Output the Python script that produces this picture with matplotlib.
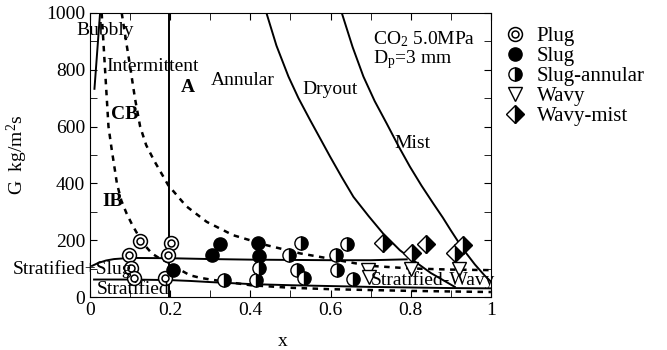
import numpy as np
import matplotlib
matplotlib.use('Agg')
from matplotlib import pyplot as plt

plt.rcParams['font.family'] = ['Liberation Serif', 'DejaVu Serif']
plt.rcParams['mathtext.default'] = 'regular'

# transition lines (x, G)
bubbly_x = [0.011, 0.025]
bubbly_g = [733, 1000]

ia_x = [0.198, 0.198]
ia_g = [0, 1000]

sw_x = [0.005, 0.02, 0.04, 0.06, 0.1, 0.2, 0.3, 0.4, 0.5, 0.6, 0.7, 0.79]
sw_g = [110, 120, 129, 134, 138, 137, 134, 132, 131, 130, 130, 133]

strat_x = [0.01, 0.1, 0.2, 0.25, 0.3, 0.4, 0.5, 0.6, 0.7, 0.8, 0.9, 1.0]
strat_g = [62, 62, 60, 57, 53, 46, 42, 39, 36, 34, 32, 31]

dry_x = [0.44, 0.465, 0.495, 0.52, 0.549, 0.575, 0.599, 0.628, 0.657, 0.695, 0.731,
         0.773, 0.80, 0.85, 0.91]
dry_g = [1000, 885, 776, 700, 623, 556, 494, 422, 353, 285, 224,
         165, 136, 85, 36]

mist_x = [0.628, 0.655, 0.682, 0.71, 0.740, 0.77, 0.798, 0.827, 0.856, 0.88, 0.90,
          0.93, 0.96, 0.985, 1.0]
mist_g = [1000, 880, 776, 690, 611, 530, 459, 392, 330, 280, 235,
          170, 115, 75, 55]

# dashed curves
cb_x = [0.029, 0.037, 0.046, 0.054, 0.062, 0.067, 0.078, 0.091, 0.105, 0.12, 0.135,
        0.154, 0.175, 0.2, 0.225, 0.249, 0.275, 0.30, 0.35,
        0.4, 0.5, 0.6, 0.7, 0.8, 0.9, 1.0]
cb_g = [1000, 811, 600, 520, 447, 400, 340, 295, 255, 218, 185,
        154, 135, 119, 96, 77, 68, 62, 52,
        42, 33, 28, 25, 22, 20, 18]

ib_x = [0.079, 0.09, 0.1, 0.112, 0.125, 0.14, 0.16, 0.195, 0.24, 0.291, 0.357, 0.44,
        0.524, 0.60, 0.65, 0.70, 0.80, 0.90, 1.0]
ib_g = [1000, 900, 811, 700, 600, 535, 480, 394, 320, 265, 218, 183,
        154, 135, 122, 110, 101, 97, 95]

# observed flow patterns
plug_x = [0.125, 0.201, 0.097, 0.195, 0.101, 0.110, 0.187]
plug_g = [198, 191, 150, 148, 101, 66, 66]

slug_x = [0.208, 0.303, 0.324, 0.420, 0.422]
slug_g = [97, 150, 187, 191, 144]

sa_x = [0.526, 0.640, 0.496, 0.613, 0.421, 0.517, 0.615, 0.334, 0.414, 0.534, 0.655]
sa_g = [191, 187, 150, 148, 101, 97, 97, 62, 62, 66, 64]

wavy_x = [0.694, 0.695, 0.800, 0.920]
wavy_g = [97, 70, 100, 100]

wm_x = [0.731, 0.802, 0.838, 0.910, 0.931]
wm_g = [191, 154, 187, 154, 183]

fig = plt.figure(figsize=(6.67, 3.5), dpi=100)
ax = fig.add_axes([0.135, 0.151, 0.601, 0.812])

for xs, gs in [(bubbly_x, bubbly_g), (ia_x, ia_g), (sw_x, sw_g),
               (strat_x, strat_g), (dry_x, dry_g), (mist_x, mist_g)]:
  ax.plot(xs, gs, color='black', lw=1.4)
for xs, gs in [(cb_x, cb_g), (ib_x, ib_g)]:
  ax.plot(xs, gs, color='black', lw=1.8, dashes=(2.2, 2.2))

ms = 10
p1, = ax.plot(plug_x, plug_g, 'o', ms=ms, mfc='white', mec='black', mew=1.1, ls='none')
p2, = ax.plot(plug_x, plug_g, 'o', ms=ms * 0.5, mfc='white', mec='black', mew=1.1, ls='none')
h_slug, = ax.plot(slug_x, slug_g, 'o', ms=ms * 0.95, mfc='black', mec='black', ls='none')
h_sa, = ax.plot(sa_x, sa_g, 'o', ms=ms * 0.95, fillstyle='right', mfc='black',
                mfcalt='white', mec='black', mew=1.0, ls='none')
h_wavy, = ax.plot(wavy_x, wavy_g, 'v', ms=ms * 1.05, mfc='white', mec='black', mew=1.0, ls='none')
h_wm, = ax.plot(wm_x, wm_g, 'D', ms=ms * 0.95, fillstyle='right', mfc='black',
                mfcalt='white', mec='black', mew=1.0, ls='none')

fs = 14
ax.text(0.037, 940, 'Bubbly', fontsize=fs, ha='center', va='center')
ax.text(0.157, 810, 'Intermittent', fontsize=fs, ha='center', va='center')
ax.text(0.245, 739, 'A', fontsize=fs, ha='center', va='center', weight='bold')
ax.text(0.382, 764, 'Annular', fontsize=fs, ha='center', va='center')
ax.text(0.60, 729, 'Dryout', fontsize=fs, ha='center', va='center')
ax.text(0.804, 542, 'Mist', fontsize=fs, ha='center', va='center')
ax.text(0.085, 641, 'CB', fontsize=fs, ha='center', va='center', weight='bold')
ax.text(0.056, 336, 'IB', fontsize=fs, ha='center', va='center', weight='bold')
ax.text(0.705, 908, 'CO$_2$ 5.0MPa', fontsize=fs, ha='left', va='center')
ax.text(0.705, 836, 'D$_p$=3 mm', fontsize=fs, ha='left', va='center')
ax.text(-0.192, 99, 'Stratified+Slug', fontsize=fs, ha='left', va='center')
ax.text(0.017, 28, 'Stratified', fontsize=fs, ha='left', va='center')
ax.text(0.70, 60, 'Stratified-Wavy', fontsize=fs, ha='left', va='center')

ax.set_xlim(0, 1)
ax.set_ylim(0, 1000)
ax.set_xticks(np.arange(0, 1.01, 0.2))
ax.set_xticklabels(['0', '0.2', '0.4', '0.6', '0.8', '1'])
ax.set_xticks(np.arange(0, 1.01, 0.1), minor=True)
ax.set_yticks(np.arange(0, 1001, 200))
ax.set_yticks(np.arange(0, 1001, 100), minor=True)
ax.tick_params(which='both', direction='in', top=True, right=True, labelsize=fs)
ax.tick_params(which='major', length=5)
ax.tick_params(which='minor', length=5)
ax.set_xlabel('x', fontsize=fs)
ax.set_ylabel('G  kg/m$^2$s', fontsize=fs)
ax.xaxis.set_label_coords(0.48, -0.125)
ax.yaxis.set_label_coords(-0.15, 0.5)

ax.legend([(p1, p2), h_slug, h_sa, h_wavy, h_wm],
          ['Plug', 'Slug', 'Slug-annular', 'Wavy', 'Wavy-mist'],
          loc='upper left', bbox_to_anchor=(1.0, 1.0), frameon=False,
          fontsize=15, handlelength=1.0, handletextpad=0.55, labelspacing=0.02,
          borderaxespad=0.25)

fig.savefig('out.png', dpi=100)
